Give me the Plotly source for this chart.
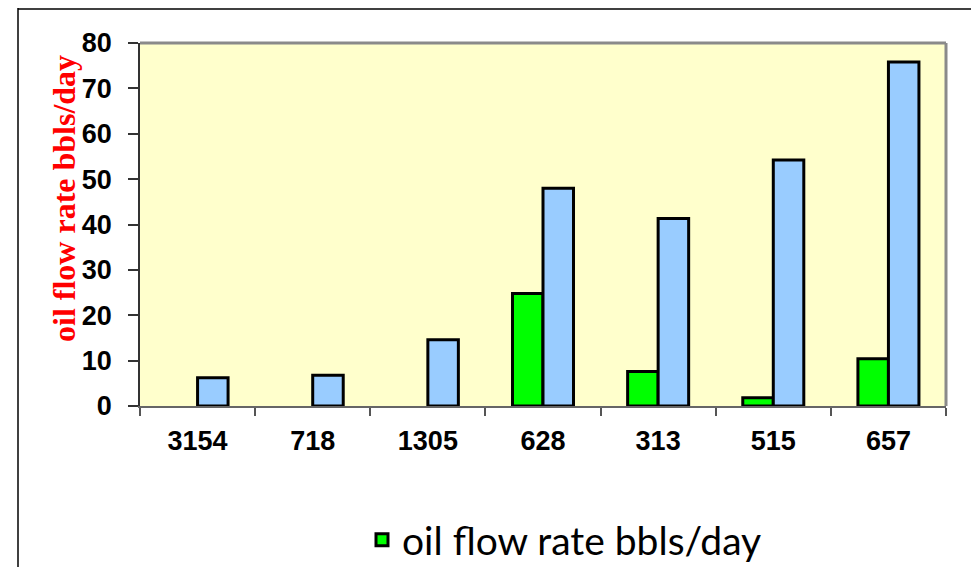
import plotly.graph_objects as go

categories = ["3154", "718", "1305", "628", "313", "515", "657"]
oil_flow = [None, None, None, 24.8, 7.6, 1.8, 10.4]
total_flow = [6.2, 6.8, 14.6, 48.0, 41.3, 54.2, 75.8]
y_ticks = [0, 10, 20, 30, 40, 50, 60, 70, 80]
y_title = "oil flow rate bbls/day"

fig = go.Figure()
fig.add_trace(go.Bar(
    x=categories, y=oil_flow, name="oil flow rate bbls/day",
    marker=dict(color="#00FF00", line=dict(color="black", width=3)),
))
fig.add_trace(go.Bar(
    x=categories, y=total_flow, name="total", showlegend=False,
    marker=dict(color="#99CCFF", line=dict(color="black", width=3)),
))

# page has an 8px body margin; figure sized so that it fits the 979x567 window
OFF = 8
W, H = 979 - OFF, 567 - OFF
L, R, T, B = 140 - OFF, 979 - 946, 43 - OFF, 567 - 406
pw, ph = W - L - R, H - T - B

def px_x(px):
    return (px - OFF - L) / pw

def px_y(py):
    return (H - B - (py - OFF)) / ph

fig.update_layout(
    width=W, height=H,
    margin=dict(l=L, r=R, t=T, b=B, autoexpand=False),
    paper_bgcolor="white",
    plot_bgcolor="#FFFFCC",
    barmode="group",
    bargap=0.47,
    bargroupgap=0,
    font=dict(family="Liberation Sans", color="black"),
    xaxis=dict(
        type="category",
        tickson="boundaries",
        ticks="outside", ticklen=8, tickcolor="#555", tickwidth=1.5,
        showline=True, linecolor="#666", linewidth=2,
        tickfont=dict(family="Liberation Sans", size=27, color="black", weight="bold"),
        ticklabelstandoff=10,
        showgrid=False,
    ),
    yaxis=dict(
        range=[0, 80],
        tickvals=y_ticks,
        ticks="outside", ticklen=10, tickcolor="#333", tickwidth=1.5,
        showline=True, linecolor="#333", linewidth=1.5,
        tickfont=dict(family="Liberation Sans", size=27, color="black", weight="bold"),
        ticklabelstandoff=11,
        showgrid=False, zeroline=False,
    ),
    annotations=[
        dict(text=y_title, xref="paper", yref="paper", x=px_x(64), y=px_y(199),
             xanchor="center", yanchor="middle", textangle=-90, showarrow=False,
             font=dict(family="Liberation Serif", size=32, color="red", weight="bold")),
    ],
    legend=dict(
        orientation="h", x=px_x(362), xanchor="left", y=px_y(540), yanchor="middle",
        font=dict(family="Lato", size=39, color="black"),
        bgcolor="rgba(0,0,0,0)",
    ),
    shapes=[
        # gray frame on top and right of plot area
        dict(type="line", xref="paper", yref="paper", x0=0, x1=1, y0=1, y1=1,
             line=dict(color="#8a8a8a", width=3)),
        dict(type="line", xref="paper", yref="paper", x0=1, x1=1, y0=0, y1=1,
             line=dict(color="#8a8a8a", width=3)),
        # outer chart frame
        dict(type="line", xref="paper", yref="paper", x0=px_x(18), x1=px_x(990),
             y0=px_y(9), y1=px_y(9), line=dict(color="black", width=1.5)),
        dict(type="line", xref="paper", yref="paper", x0=px_x(18), x1=px_x(18),
             y0=px_y(8), y1=px_y(580), line=dict(color="black", width=1.5)),
    ],
)

fig.write_html("out.html")
